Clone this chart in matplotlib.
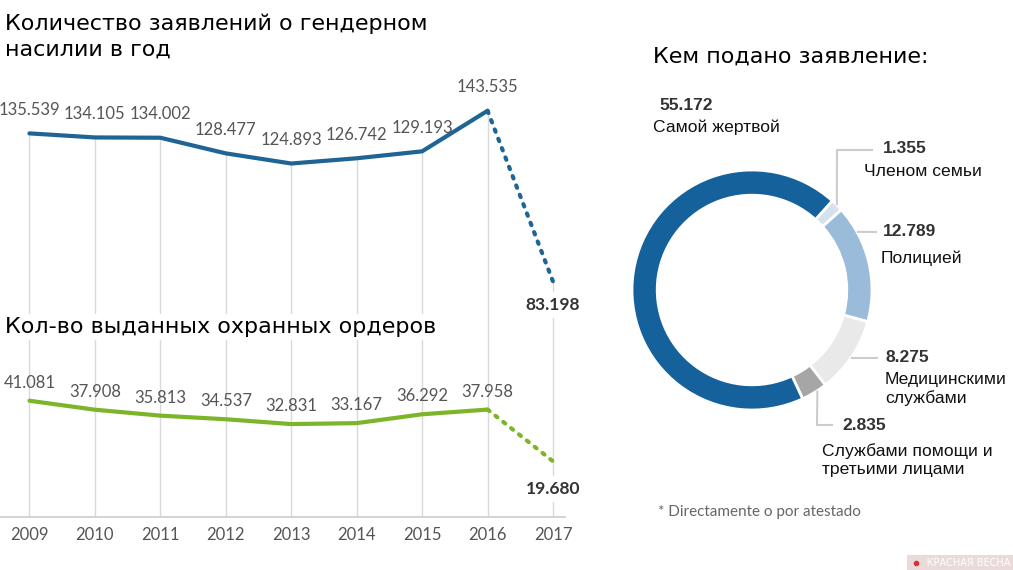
import numpy as np
import matplotlib.pyplot as plt
from matplotlib.lines import Line2D

years = [2009, 2010, 2011, 2012, 2013, 2014, 2015, 2016, 2017]
complaints = [135.539, 134.105, 134.002, 128.477, 124.893, 126.742, 129.193, 143.535, 83.198]
orders = [41.081, 37.908, 35.813, 34.537, 32.831, 33.167, 36.292, 37.958, 19.680]

who_labels = ['Членом семьи', 'Полицией', 'Медицинскими\nслужбами',
              'Службами помощи и\nтретьими лицами', 'Самой жертвой']
who_values = [1.355, 12.789, 8.275, 2.835, 55.172]
who_colors = ['#d5e2ee', '#9abcda', '#e9e9e9', '#a6a6a6', '#14619b']

W, H = 1013, 570
fig = plt.figure(figsize=(W / 100, H / 100), dpi=100)


def fx(x):
    return x / W


def fy(y):
    return 1 - y / H


def fmt(v):
    return f'{v:.3f}'


# ---------------- left: line chart ----------------
ax = fig.add_axes([0, fy(517), fx(565), 467 / H])
ax.set_xlim(2008.55, 2009 + 8 * (565 - 29) / 524)
ax.set_ylim(0, 165)

ax.vlines(years, 0, complaints, color='#d9d9d9', lw=1, zorder=1)

blue = '#1e6596'
green = '#7db52a'
ax.plot(years[:-1], complaints[:-1], color=blue, lw=3, solid_capstyle='round', zorder=3)
ax.plot(years[-2:], complaints[-2:], color=blue, lw=3, ls=(0, (0.6, 1.8)),
        dash_capstyle='round', zorder=3)
ax.plot(years[:-1], orders[:-1], color=green, lw=3, solid_capstyle='round', zorder=3)
ax.plot(years[-2:], orders[-2:], color=green, lw=3, ls=(0, (0.6, 1.8)),
        dash_capstyle='round', zorder=3)

lab_kw = dict(family='Lato', fontsize=12, color='#555555', ha='center', va='center')
for x, v in zip(years[:-1], complaints[:-1]):
    ax.annotate(fmt(v), (x, v), xytext=(0, 17), textcoords='offset points', **lab_kw)
for x, v in zip(years[:-1], orders[:-1]):
    ax.annotate(fmt(v), (x, v), xytext=(0, 13), textcoords='offset points', **lab_kw)

bold_kw = dict(family='Lato', fontsize=12.5, fontweight='bold', color='#333333',
               ha='center', va='center', textcoords='offset points',
               bbox=dict(boxstyle='square,pad=0.3', fc='white', ec='none'), zorder=4)
ax.annotate(fmt(complaints[-1]), (years[-1], complaints[-1]), xytext=(0, -17), **bold_kw)
ax.annotate(fmt(orders[-1]), (years[-1], orders[-1]), xytext=(0, -20), **bold_kw)

for s in ['top', 'left', 'right']:
    ax.spines[s].set_visible(False)
ax.spines['bottom'].set_color('#cccccc')
ax.spines['bottom'].set_linewidth(1.2)
ax.set_yticks([])
ax.set_xticks(years)
ax.set_xticklabels([str(y) for y in years], family='Lato', fontsize=12, color='#555555')
ax.tick_params(axis='x', length=0, pad=7)

title_kw = dict(family='DejaVu Sans', fontsize=16, color='black', ha='left', va='center')
fig.text(fx(5), fy(24), 'Количество заявлений о гендерном', **title_kw)
fig.text(fx(5), fy(50), 'насилии в год', **title_kw)
fig.text(fx(5), fy(327), 'Кол-во выданных охранных ордеров',
         bbox=dict(boxstyle='square,pad=0.15', fc='white', ec='none'), zorder=5, **title_kw)
fig.text(fx(653), fy(57), 'Кем подано заявление:', **title_kw)

# ---------------- right: donut ----------------
cx, cy, R = 752, 290, 120
dax = fig.add_axes([fx(cx - R), fy(cy + R), 2 * R / W, 2 * R / H])
dax.pie(who_values, colors=who_colors, startangle=48, counterclock=False,
        radius=1, wedgeprops=dict(width=0.21, edgecolor='white', linewidth=2))
dax.set_xlim(-1, 1)
dax.set_ylim(-1, 1)
dax.set_aspect('auto')


def d(x, y):
    # pixel position -> donut data coords
    return (x - cx) / R, (cy - y) / R


lead = dict(color='#cccccc', lw=1.5, clip_on=False, solid_capstyle='butt')
# leader lines: (angle on ring, list of pixel waypoints)
leaders = [
    (45, [(837, 150), (873, 150)]),
    (29, [(877, 232)]),
    (-34.5, [(878, 358)]),
    (-57, [(817, 425), (833, 425)]),
]
for ang, pts in leaders:
    a = np.radians(ang)
    xs = [np.cos(a)]
    ys = [np.sin(a)]
    for p in pts:
        px, py = d(*p)
        xs.append(px)
        ys.append(py)
    dax.plot(xs, ys, **lead)

num_kw = dict(family='Liberation Sans', fontsize=12.5, fontweight='bold', color='#333333',
              ha='left', va='center')
txt_kw = dict(family='Liberation Sans', fontsize=12.6, color='#111111', ha='left',
              va='center', linespacing=1.3)
# (number pos, label pos) in pixels
label_pos = [
    ((883, 149), (864, 172)),
    ((883, 232), (881, 258)),
    ((885, 358), (885, 389)),
    ((842, 425), (822, 460)),
    ((659, 106), (653, 127)),
]
for v, t, (npos, tpos) in zip(who_values, who_labels, label_pos):
    fig.text(fx(npos[0]), fy(npos[1]), fmt(v), **num_kw)
    fig.text(fx(tpos[0]), fy(tpos[1]), t, **txt_kw)

fig.text(fx(658), fy(512), '* Directamente o por atestado', family='Lato', fontsize=11,
         color='#666666', ha='left', va='center')

fig.text(fx(1010), fy(563), '     КРАСНАЯ ВЕСНА', family='DejaVu Sans', fontsize=7,
         color='white', ha='right', va='center',
         bbox=dict(boxstyle='square,pad=0.35', fc='#eadada', ec='none'))
fig.add_artist(Line2D([fx(916)], [fy(563)], marker='o', ms=3, color='#d8323a',
                      lw=0, transform=fig.transFigure, zorder=10))

fig.savefig('out.png', dpi=100, facecolor='white')
